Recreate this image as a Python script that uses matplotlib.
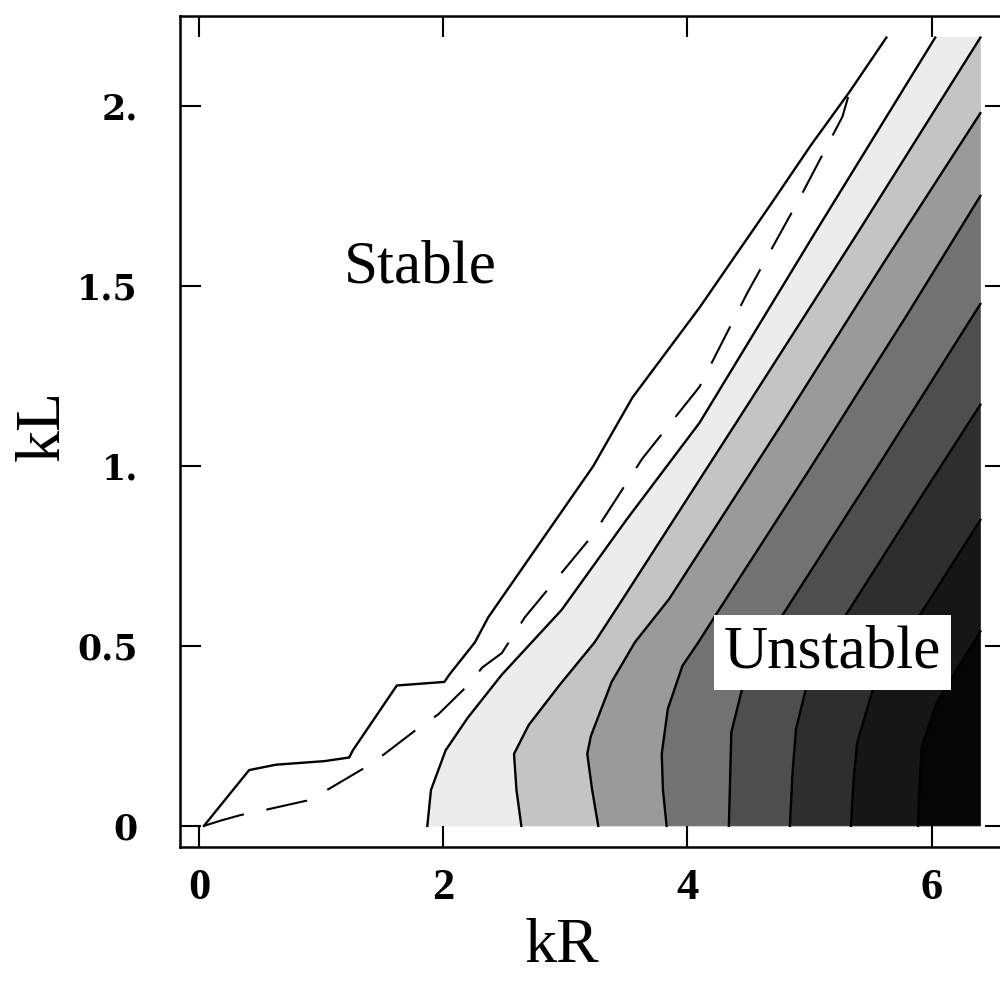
import matplotlib
matplotlib.use("Agg")
import matplotlib.pyplot as plt

# Outer stability boundary (solid line)
outer_kR = [0.04, 0.41, 0.63, 1.03, 1.23, 1.26, 1.62, 2.01, 2.05, 2.26, 2.37,
            3.23, 3.55, 4.10, 4.69, 5.01, 5.33, 5.63]
outer_kL = [0.00, 0.155, 0.17, 0.18, 0.19, 0.21, 0.39, 0.40, 0.42, 0.51, 0.58,
            1.00, 1.19, 1.44, 1.73, 1.89, 2.04, 2.19]

# Marginal curve (dashed line)
marg_kR = [0.04, 0.18, 0.34, 0.55, 0.88, 1.05, 1.35, 1.52, 1.79, 1.96, 2.20,
           2.32, 2.48, 2.67, 3.23, 3.63, 4.10, 4.49, 4.93, 5.27, 5.33]
marg_kL = [0.00, 0.015, 0.03, 0.045, 0.07, 0.10, 0.16, 0.20, 0.27, 0.31, 0.39,
           0.44, 0.48, 0.58, 0.81, 1.02, 1.22, 1.48, 1.75, 1.97, 2.04]

# Growth-rate contours, from the weakest to the strongest level
c1_kR = [1.87, 1.90, 2.02, 2.20, 2.48, 2.97, 3.50, 4.10, 5.05, 6.03]
c1_kL = [0.00, 0.10, 0.21, 0.30, 0.42, 0.60, 0.85, 1.12, 1.65, 2.19]
c2_kR = [2.64, 2.60, 2.58, 2.70, 2.95, 3.24, 3.47, 4.40, 5.40, 6.40]
c2_kL = [0.00, 0.10, 0.20, 0.28, 0.39, 0.51, 0.63, 1.12, 1.65, 2.19]
c3_kR = [3.27, 3.22, 3.18, 3.21, 3.38, 3.57, 3.85, 4.80, 5.60, 6.40]
c3_kL = [0.00, 0.10, 0.20, 0.25, 0.40, 0.51, 0.63, 1.13, 1.56, 1.98]
c4_kR = [3.83, 3.80, 3.79, 3.84, 3.96, 4.09, 4.24, 5.00, 5.80, 6.40]
c4_kL = [0.00, 0.10, 0.20, 0.325, 0.445, 0.51, 0.59, 0.99, 1.42, 1.75]
c5_kR = [4.34, 4.35, 4.36, 4.47, 4.75, 5.60, 6.40]
c5_kL = [0.00, 0.13, 0.26, 0.41, 0.57, 1.02, 1.45]
c6_kR = [4.84, 4.86, 4.89, 5.00, 5.25, 5.85, 6.40]
c6_kL = [0.00, 0.14, 0.27, 0.42, 0.56, 0.88, 1.17]
c7_kR = [5.34, 5.36, 5.39, 5.52, 5.80, 6.40]
c7_kL = [0.00, 0.12, 0.23, 0.38, 0.53, 0.85]
c8_kR = [5.89, 5.90, 5.92, 6.04, 6.20, 6.40]
c8_kL = [0.00, 0.11, 0.22, 0.34, 0.43, 0.54]

# Shade of each band between successive contours (after contour 1 ... after 8)
band_shades = ["#ececec", "#c4c4c4", "#9a9a9a", "#727272",
               "#4e4e4e", "#2e2e2e", "#161616", "#050505"]

# Computed domain
kR_max = 6.40
kL_max = 2.19

x_ticks = [0, 2, 4, 6]
x_tick_labels = ["0", "2", "4", "6"]
y_ticks = [0, 0.5, 1.0, 1.5, 2.0]
y_tick_labels = ["0", "0.5", "1.", "1.5", "2."]

serif = "Liberation Serif"

fig = plt.figure(figsize=(10, 9.85), dpi=100)
ax = fig.add_axes([0.1795, 0.1396, 0.8265, 0.8442])
ax.set_xlim(-0.16, 6.61)
ax.set_ylim(-0.06, 2.25)

contours = [(c1_kR, c1_kL), (c2_kR, c2_kL), (c3_kR, c3_kL), (c4_kR, c4_kL),
            (c5_kR, c5_kL), (c6_kR, c6_kL), (c7_kR, c7_kL), (c8_kR, c8_kL)]


def band_polygon(left, right):
    """Region between two contours, closed along the domain edges."""
    lx, ly = left
    px, py = list(lx), list(ly)
    if right is None:
        px.append(kR_max)
        py.append(0.0)
        return px, py
    rx, ry = right
    if ly[-1] >= kL_max and ry[-1] < kL_max:
        px.append(kR_max)
        py.append(kL_max)
    px += list(rx)[::-1]
    py += list(ry)[::-1]
    return px, py


for i, shade in enumerate(band_shades):
    nxt = contours[i + 1] if i + 1 < len(contours) else None
    bx, by = band_polygon(contours[i], nxt)
    ax.fill(bx, by, facecolor=shade, edgecolor=shade, lw=0.6, zorder=1)

for cx, cy in contours:
    ax.plot(cx, cy, color="black", lw=1.7, zorder=3)

ax.plot(outer_kR, outer_kL, color="black", lw=1.7, zorder=3)
ax.plot(marg_kR, marg_kL, color="black", lw=1.5, dashes=(20, 11), zorder=3)

ax.text(1.81, 1.51, "Stable", ha="center", va="baseline", fontsize=44,
        family=serif, zorder=6)
ax.text(5.19, 0.44, "Unstable", ha="center", va="baseline", fontsize=44,
        family=serif, zorder=6,
        bbox=dict(facecolor="white", edgecolor="none",
                  boxstyle="square,pad=0.16"))

for s in ax.spines.values():
    s.set_linewidth(1.8)

ax.set_xticks(x_ticks, x_tick_labels, fontsize=32, family=serif,
              fontweight="bold")
ax.set_yticks(y_ticks, y_tick_labels, fontsize=25, family="DejaVu Serif",
              fontweight="bold")
ax.tick_params(axis="both", direction="in", length=15, width=1.5,
               top=True, right=True, labeltop=False, labelright=False)
ax.tick_params(axis="x", pad=15)
ax.tick_params(axis="y", pad=30)

fig.text(0.562, 1 - 962 / 985, "kR", ha="center", va="baseline",
         fontsize=46, family=serif)
fig.text(0.044, 0.5685, "kL", rotation=90, ha="center", va="center",
         fontsize=46, family=serif)

fig.savefig("out.png", dpi=100)
